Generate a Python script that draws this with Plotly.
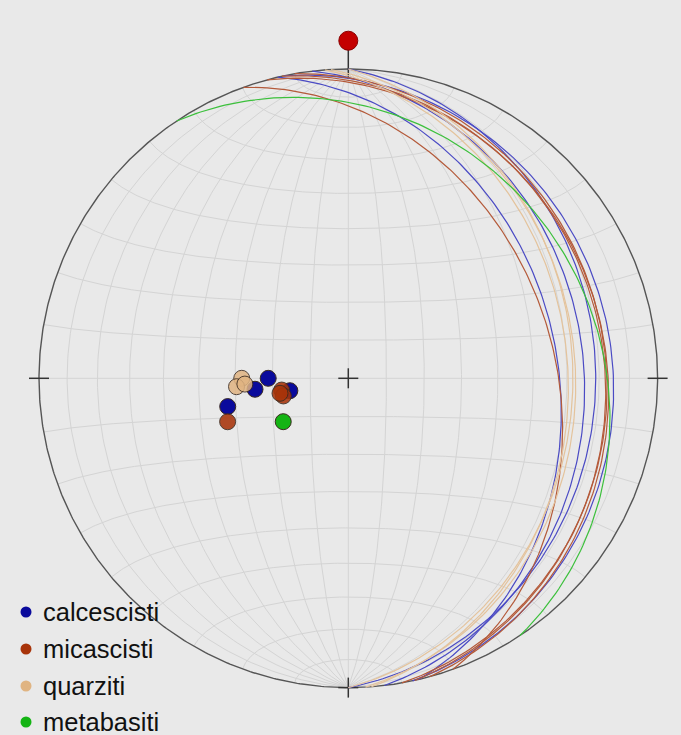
import numpy as np
import plotly.graph_objects as go

# Foliation planes per lithology: dip direction and dip, in degrees
lithologies = ["calcescisti", "micascisti", "quarziti", "metabasiti"]
calcescisti_dipdir = [90.0, 83.3, 78.0, 76.8]
calcescisti_dip = [21.1, 24.8, 15.7, 32.9]
micascisti_dipdir = [70.2, 80.0, 74.8, 77.6]
micascisti_dip = [34.1, 17.8, 17.7, 18.4]
quarziti_dipdir = [90.0, 85.7, 86.8]
quarziti_dip = [28.2, 29.7, 27.4]
metabasiti_dipdir = [56.3]
metabasiti_dip = [20.6]

planes = {
    "calcescisti": (calcescisti_dipdir, calcescisti_dip),
    "micascisti": (micascisti_dipdir, micascisti_dip),
    "quarziti": (quarziti_dipdir, quarziti_dip),
    "metabasiti": (metabasiti_dipdir, metabasiti_dip),
}
marker_colors = {"calcescisti": "#0a0a9c", "micascisti": "#a8340a",
                 "quarziti": "#e0b482", "metabasiti": "#14b414"}
marker_opacity = {"calcescisti": 1.0, "micascisti": 0.88,
                  "quarziti": 0.85, "metabasiti": 1.0}
line_colors = {"calcescisti": "#4a4ac4", "micascisti": "#b45a3a",
               "quarziti": "#e4c39c", "metabasiti": "#3cc03c"}

# Net geometry in screen pixels (centre and primitive radius)
W, H = 681, 735
CX, CY, R = 348.3, 378.3, 309.3


def sx(px):
    return (px - CX) / R


def sy(py):
    return (CY - py) / R


def project(e, n, z):
    """Equal-area (Schmidt) lower-hemisphere projection, unit primitive."""
    s = np.sqrt(1.0 - z)
    return e / s, n / s


def great_circle(dipdir, dip, npts=181):
    dd, dp = np.radians(dipdir), np.radians(dip)
    st = dd - np.pi / 2
    lam = np.linspace(0, np.pi, npts)
    e = np.cos(lam) * np.sin(st) + np.sin(lam) * np.sin(dd) * np.cos(dp)
    n = np.cos(lam) * np.cos(st) + np.sin(lam) * np.cos(dd) * np.cos(dp)
    z = -np.sin(lam) * np.sin(dp)
    return project(e, n, z)


def pole(dipdir, dip):
    tr = np.radians(np.asarray(dipdir) + 180.0)
    pl = np.radians(90.0 - np.asarray(dip))
    return project(np.sin(tr) * np.cos(pl), np.cos(tr) * np.cos(pl), -np.sin(pl))


def small_circle_ns(alpha, npts=181):
    a = np.radians(alpha)
    phi = np.linspace(-np.pi, 0, npts)
    e = np.sin(a) * np.cos(phi)
    n = np.full_like(phi, np.cos(a))
    z = np.sin(a) * np.sin(phi)
    return project(e, n, z)


def joined(curves):
    xs, ys = [], []
    for x, y in curves:
        xs += list(x) + [None]
        ys += list(y) + [None]
    return xs, ys


fig = go.Figure()

# Schmidt net: meridians and small circles every 10 degrees
grid = []
for d in range(10, 91, 10):
    grid.append(great_circle(90, d))
    if d < 90:
        grid.append(great_circle(270, d))
for a in range(10, 171, 10):
    grid.append(small_circle_ns(a))
gx, gy = joined(grid)
fig.add_trace(go.Scatter(x=gx, y=gy, mode="lines",
                         line=dict(color="#d4d4d4", width=1), hoverinfo="skip"))

# Primitive circle
t = np.linspace(0, 2 * np.pi, 721)
fig.add_trace(go.Scatter(x=np.cos(t), y=np.sin(t), mode="lines",
                         line=dict(color="#555555", width=1.4), hoverinfo="skip"))

# Cardinal ticks and centre cross
tk = 10 / R
cx = [-tk, tk, None, 0, 0, None,
      -1 - tk, -1 + tk, None, 1 - tk, 1 + tk, None,
      -tk, tk, None, 0, 0, None, 0, 0]
cy = [0, 0, None, -tk, tk, None,
      0, 0, None, 0, 0, None,
      -1, -1, None, -1 - tk, -1 + tk, None, 1 - tk, sy(48)]
fig.add_trace(go.Scatter(x=cx, y=cy, mode="lines",
                         line=dict(color="#333333", width=1.5), hoverinfo="skip"))

# Great circles of the foliation planes
for name in lithologies:
    dds, dps = planes[name]
    lx, ly = joined([great_circle(a, b) for a, b in zip(dds, dps)])
    fig.add_trace(go.Scatter(x=lx, y=ly, mode="lines",
                             line=dict(color=line_colors[name], width=1.2),
                             hoverinfo="skip"))

# Poles to the planes
for name in lithologies:
    dds, dps = planes[name]
    px, py = pole(dds, dps)
    fig.add_trace(go.Scatter(x=px, y=py, mode="markers", name=name,
                             marker=dict(size=16, color=marker_colors[name],
                                         opacity=marker_opacity[name],
                                         line=dict(color="#3a2a20", width=1))))

# North marker
fig.add_trace(go.Scatter(x=[0], y=[sy(40.7)], mode="markers",
                         marker=dict(size=19, color="#c40000",
                                     line=dict(color="#8a0000", width=1)),
                         hoverinfo="skip"))

# Legend
leg_y = [612, 649, 686, 722]
fig.add_trace(go.Scatter(x=[sx(26)] * 4, y=[sy(v) for v in leg_y], mode="markers",
                         marker=dict(size=11, color=[marker_colors[n] for n in lithologies]),
                         hoverinfo="skip", cliponaxis=False))
for name, v in zip(lithologies, leg_y):
    fig.add_annotation(x=sx(41), y=sy(v), text=name, showarrow=False,
                       xanchor="left", yanchor="middle",
                       font=dict(family="Arial, Liberation Sans, sans-serif",
                                 size=25.5, color="#111111"))

fig.update_layout(
    width=W, height=H, margin=dict(l=0, r=0, t=0, b=0),
    paper_bgcolor="#e9e9e9", plot_bgcolor="#e9e9e9", showlegend=False,
    xaxis=dict(range=[sx(0), sx(W)], visible=False, fixedrange=True),
    yaxis=dict(range=[sy(H), sy(0)], visible=False, fixedrange=True),
)

fig.write_html("out.html")
